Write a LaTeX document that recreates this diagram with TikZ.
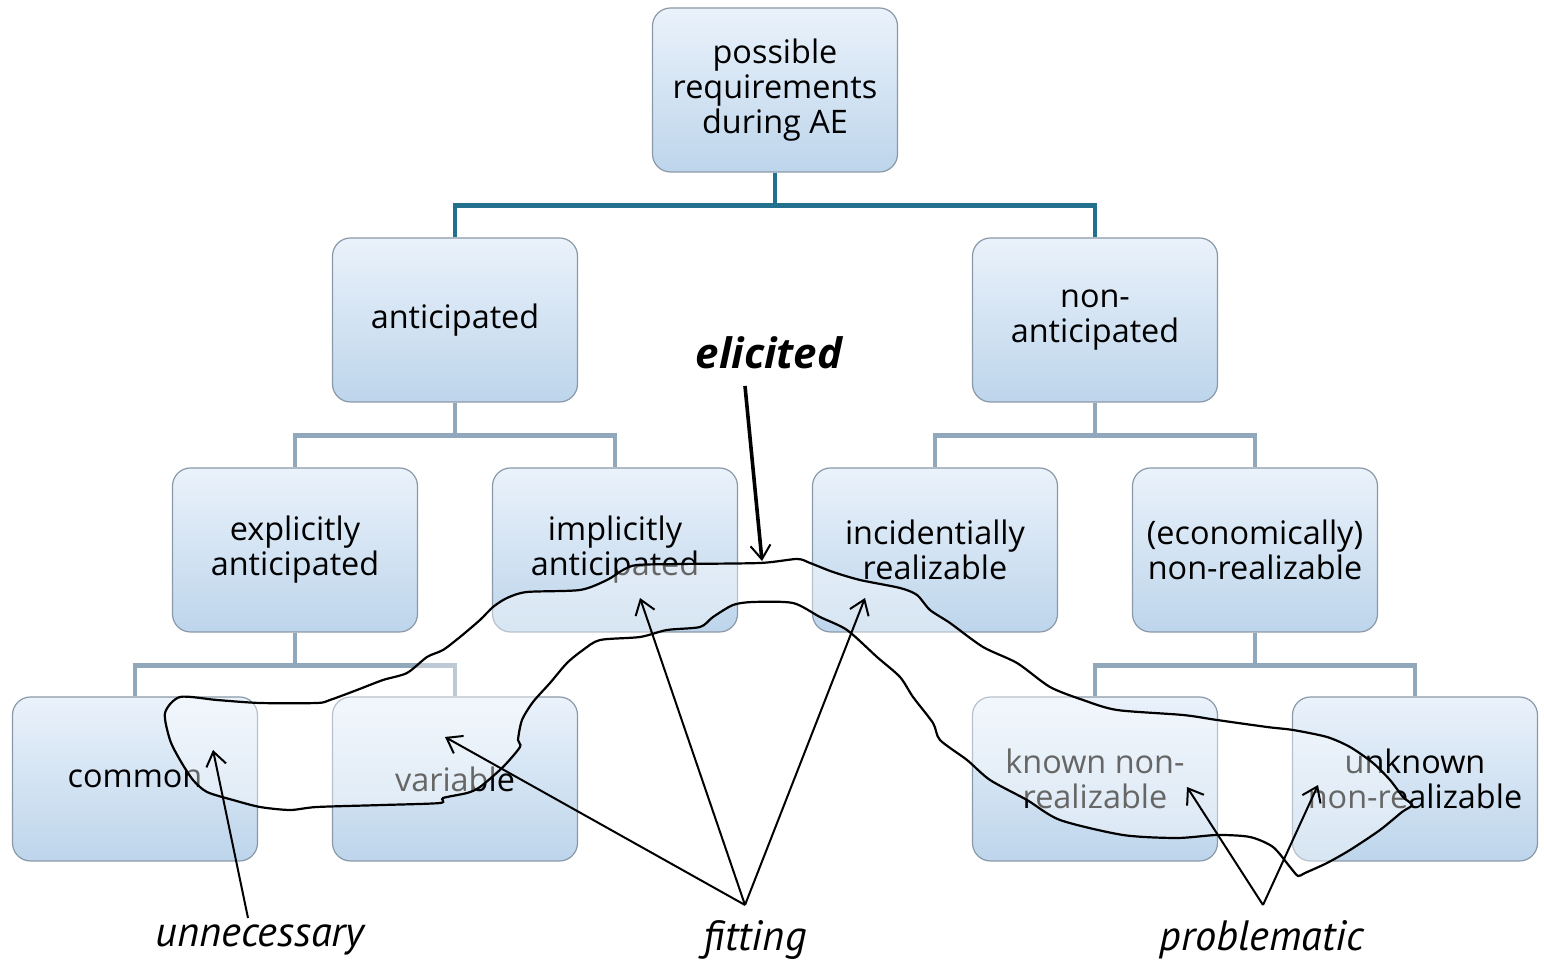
\documentclass[tikz,border=0pt]{standalone}
\usepackage{fontspec}
\setmainfont{Open Sans}
\newfontfamily\labelfont{PT Sans}
\usetikzlibrary{arrows.meta}
\definecolor{boxtop}{HTML}{EAF2FB}
\definecolor{boxbot}{HTML}{BDD5EB}
\definecolor{boxrim}{HTML}{8A99A8}
\definecolor{rootline}{HTML}{22708E}
\definecolor{subline}{HTML}{91A8BC}
\tikzset{
  x=0.5pt, y=-0.5pt,
  reqbox/.style={draw=boxrim, line width=0.6pt, rounded corners=9pt,
    top color=boxtop, bottom color=boxbot,
    minimum width=122.5pt, minimum height=82pt, inner sep=0pt,
    align=center, font=\fontsize{16.2}{17.5}\selectfont, text=black},
  rootlink/.style={draw=rootline, line width=2.4pt},
  sublink/.style={draw=subline, line width=2.4pt},
  note/.style={font=\labelfont\itshape\fontsize{21.2}{23}\selectfont},
  pointer/.style={draw=black, line width=1pt,
    -{Straight Barb[length=7pt, width=10pt, line width=1pt]}},
}
\begin{document}
\begin{tikzpicture}
\useasboundingbox (0,0) rectangle (1544,961);

% tree of requirement categories
\node[reqbox] (root) at (775,90) {possible\\requirements\\during AE};
\node[reqbox] (ant)  at (455,320) {anticipated};
\node[reqbox] (nant) at (1095,320) {non-\\anticipated};
\node[reqbox] (expl) at (295,550) {explicitly\\anticipated};
\node[reqbox] (impl) at (615,550) {implicitly\\anticipated};
\node[reqbox] (inc)  at (935,550) {incidentially\\realizable};
\node[reqbox] (eco)  at (1255,550) {(economically)\\non-realizable};
\node[reqbox] (com)  at (135,779) {common};
\node[reqbox] (var)  at (455,779) {variable};
\node[reqbox] (knr)  at (1095,779) {known non-\\realizable};
\node[reqbox] (unr)  at (1415,779) {unknown\\non-realizable};

% branch lines
\draw[rootlink] (root.south) -- ++(0,33) -| (ant.north);
\draw[rootlink] (root.south) -- ++(0,33) -| (nant.north);
\draw[sublink] (ant.south) -- ++(0,33) -| (expl.north);
\draw[sublink] (ant.south) -- ++(0,33) -| (impl.north);
\draw[sublink] (nant.south) -- ++(0,33) -| (inc.north);
\draw[sublink] (nant.south) -- ++(0,33) -| (eco.north);
\draw[sublink] (expl.south) -- ++(0,33) -| (com.north);
\draw[sublink] (expl.south) -- ++(0,33) -| (var.north);
\draw[sublink] (eco.south) -- ++(0,33) -| (knr.north);
\draw[sublink] (eco.south) -- ++(0,33) -| (unr.north);

% hand-drawn outline of the elicited requirements
\draw[black, line width=1.1pt, fill=white, fill opacity=0.4, draw opacity=1]
  plot[smooth cycle, tension=0.45] coordinates {
    (180,697) (217,700) (260,703) (317,703) (330,700) (357,690) (383,680)
    (407,673) (427,657) (443,650) (460,637) (480,620) (493,607) (507,598)
    (527,592) (580,590) (607,580) (623,570) (637,565) (680,564) (760,563)
    (797,559) (810,563) (833,572) (860,580) (900,588) (917,595) (930,610)
    (950,623) (983,647) (1017,663) (1050,687) (1083,700) (1117,710)
    (1183,715) (1217,720) (1267,727) (1293,730) (1327,737) (1350,747)
    (1373,763) (1390,780) (1403,797) (1412,805) (1402,812) (1380,830)
    (1350,850) (1327,863) (1305,873) (1298,876) (1290,867) (1273,847)
    (1250,837) (1217,835) (1177,838) (1123,835) (1060,820) (1027,800)
    (990,780) (967,760) (940,740) (933,723) (913,697) (900,677) (877,657)
    (847,630) (820,617) (793,603) (753,602) (733,605) (713,617) (700,627)
    (667,630) (640,637) (600,640) (583,650) (567,663) (550,683) (533,702)
    (522,720) (518,740) (520,747) (503,767) (480,787) (467,793) (443,798)
    (440,803) (383,805) (317,807) (290,810) (260,807) (233,800) (207,792)
    (193,780) (180,760) (170,740) (165,713)
  };

% annotations
\node[font=\bfseries\itshape\fontsize{21}{23}\selectfont] (eli) at (769,353) {elicited};
\node[note] (unn) at (260,940) {unnecessary};
\node[note] (fit) at (755,940) {fitting};
\node[note] (pro) at (1262,940) {problematic};

\coordinate (eliTail) at (745,386);
\coordinate (eliHead) at (762,561);
\coordinate (unnTail) at (248,918);
\coordinate (unnHead) at (213,750);
\coordinate (fitTail) at (745,905);
\coordinate (fitVar)  at (445,737);
\coordinate (fitImpl) at (640,598);
\coordinate (fitInc)  at (865,598);
\coordinate (proTail) at (1263,905);
\coordinate (proKnr)  at (1187,787);
\coordinate (proUnr)  at (1318,785);

\draw[pointer, line width=1.8pt] (eliTail) -- (eliHead);
\draw[pointer] (unnTail) -- (unnHead);
\draw[pointer] (fitTail) -- (fitVar);
\draw[pointer] (fitTail) -- (fitImpl);
\draw[pointer] (fitTail) -- (fitInc);
\draw[pointer] (proTail) -- (proKnr);
\draw[pointer] (proTail) -- (proUnr);
\end{tikzpicture}
\end{document}
